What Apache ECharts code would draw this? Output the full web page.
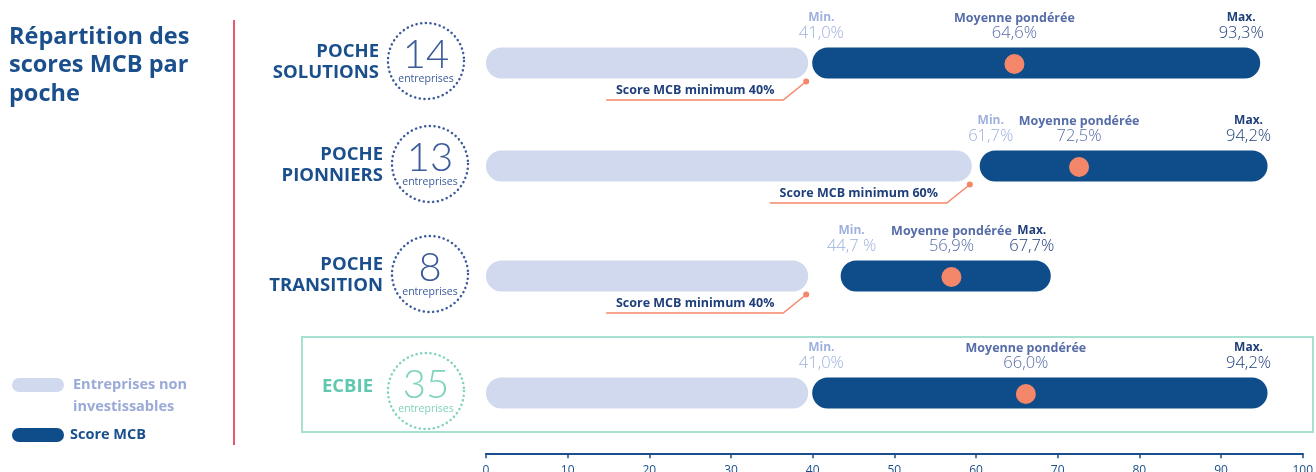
<!DOCTYPE html>
<html><head><meta charset="utf-8">
<script src="https://cdn.jsdelivr.net/npm/echarts@6/dist/echarts.min.js"></script>
<style>html,body{margin:0;padding:0;background:#fff}#c{width:1316px;height:472px}</style>
</head><body><div id="c"></div>
<script>
// ---- data ----
const rowNames = [['POCHE','SOLUTIONS'],['POCHE','PIONNIERS'],['POCHE','TRANSITION'],['ECBIE']];
const companies = [14, 13, 8, 35];
const thresholds = [40, 60, 40, 40];
const minScores = [41.0, 61.7, 44.7, 41.0];
const meanScores = [64.6, 72.5, 56.9, 66.0];
const maxScores = [93.3, 94.2, 67.7, 94.2];
const minLabels = ['41,0%', '61,7%', '44,7 %', '41,0%'];
const meanLabels = ['64,6%', '72,5%', '56,9%', '66,0%'];
const maxLabels = ['93,3%', '94,2%', '67,7%', '94,2%'];
const axisTicks = [0, 10, 20, 30, 40, 50, 60, 70, 80, 90, 100];

// ---- layout / style ----
const rowCenters = [63, 166, 276, 393];
const FONT = "'Open Sans', 'Noto Sans', sans-serif";
const C_DARK = '#0f4c8a', C_LIGHT = '#d1d9ee', C_DOT = '#f4876a', C_TITLE = '#1a4f8c', C_TEAL = '#5ec8b0';
const C_MIN = '#9eb0dc', C_MEAN = '#566ca8', C_MAX = '#1f3f7a';

const chart = echarts.init(document.getElementById('c'), null, {renderer: 'canvas'});

function renderItem(params, api) {
  const i = api.value(4);
  const th = api.value(0), mn = api.value(1), mean = api.value(2), mx = api.value(3);
  const p0 = api.coord([0, 0]);
  const cy = p0[1], x0 = p0[0];
  const h = 31, r = h / 2;
  const xTh = api.coord([th, 0])[0];
  const lightEnd = xTh - 5;
  const darkStart = Math.max(api.coord([mn, 0])[0] - 11, lightEnd + 4);
  const darkEnd = api.coord([mx, 0])[0] + 11;
  const xMean = api.coord([mean, 0])[0];
  const xMin = api.coord([mn, 0])[0];
  const xMax = api.coord([mx, 0])[0];
  const ch = [];
  ch.push({type: 'rect', shape: {x: x0, y: cy - r, width: lightEnd - x0, height: h, r: r}, style: {fill: C_LIGHT}});
  ch.push({type: 'rect', shape: {x: darkStart, y: cy - r, width: darkEnd - darkStart, height: h, r: r}, style: {fill: C_DARK}});
  ch.push({type: 'circle', shape: {cx: xMean, cy: cy + 1, r: 10}, style: {fill: C_DOT}});
  const txt = (t, x, y, size, weight, color) => ({type: 'text', style: {text: t, x: x, y: y, fontSize: size, fontWeight: weight, fontFamily: FONT, fill: color, align: 'center', verticalAlign: 'middle'}});
  ch.push(txt('Min.', xMin, cy - 45, 12, 'bold', C_MIN));
  ch.push(txt(minLabels[i], xMin, cy - 30, 16.5, 300, C_MIN));
  ch.push(txt('Moyenne pondérée', xMean, cy - 45, 12.5, 'bold', C_MEAN));
  ch.push(txt(meanLabels[i], xMean, cy - 30, 16.5, 300, C_MEAN));
  ch.push(txt('Max.', xMax - 8, cy - 45, 12, 'bold', C_MAX));
  ch.push(txt(maxLabels[i], xMax - 8, cy - 30, 16.5, 300, C_MAX));
  if (i < 3) {
    const dx = lightEnd - 2, dy = cy + r + 3;
    ch.push({type: 'polyline', shape: {points: [[dx, dy], [dx - 23, cy + 37], [dx - 200, cy + 37]]}, style: {stroke: C_DOT, lineWidth: 1.5, fill: null}});
    ch.push({type: 'circle', shape: {cx: dx, cy: dy, r: 3}, style: {fill: C_DOT}});
    ch.push(txt('Score MCB minimum ' + th + '%', dx - 111, cy + 27, 12.5, 'bold', C_MAX));
  }
  return {type: 'group', children: ch};
}

const grids = [], xAxes = [], yAxes = [], series = [];
rowCenters.forEach((cy, i) => {
  grids.push({left: 486, right: 12, top: cy - 16, height: 32});
  xAxes.push({type: 'value', gridIndex: i, min: 0, max: 100, show: false});
  yAxes.push({type: 'category', gridIndex: i, data: [rowNames[i].join(' ')], show: false});
  series.push({type: 'custom', xAxisIndex: i, yAxisIndex: i, clip: false, silent: true, renderItem: renderItem,
    data: [[thresholds[i], minScores[i], meanScores[i], maxScores[i], i]]});
});
grids.push({left: 486, right: 12, top: 453, height: 1});
xAxes.push({type: 'value', gridIndex: 4, min: 0, max: 100, interval: 10, position: 'bottom',
  axisLine: {show: true, lineStyle: {color: C_TITLE, width: 2}},
  axisTick: {show: true, length: 5, lineStyle: {color: C_TITLE, width: 1.5}},
  splitLine: {show: false},
  axisLabel: {show: true, margin: 11, fontSize: 12, color: C_TITLE, fontFamily: FONT,
    formatter: v => axisTicks.indexOf(v) >= 0 ? String(v) : ''}});
yAxes.push({type: 'value', gridIndex: 4, show: false});

// ---- graphic: left panel, row labels, circles ----
const graphic = [];
['Répartition des', 'scores MCB par', 'poche'].forEach((t, k) => {
  graphic.push({type: 'text', left: 9, top: 25 + k * 28.5, style: {text: t, fontSize: 23.5, fontWeight: 'bold', fontFamily: FONT, fill: C_TITLE}});
});
graphic.push({type: 'line', shape: {x1: 234, y1: 20, x2: 234, y2: 445}, style: {stroke: '#e8576f', lineWidth: 2}});
graphic.push({type: 'rect', shape: {x: 12, y: 378, width: 52, height: 14, r: 7}, style: {fill: C_LIGHT}});
graphic.push({type: 'text', x: 73, y: 385, style: {text: 'Entreprises non', fontSize: 14.5, fontWeight: 'bold', fontFamily: FONT, fill: '#9aaad8', verticalAlign: 'middle'}});
graphic.push({type: 'text', x: 73, y: 407, style: {text: 'investissables', fontSize: 14.5, fontWeight: 'bold', fontFamily: FONT, fill: '#9aaad8', verticalAlign: 'middle'}});
graphic.push({type: 'rect', shape: {x: 12, y: 428, width: 52, height: 14, r: 7}, style: {fill: C_DARK}});
graphic.push({type: 'text', x: 70, y: 435, style: {text: 'Score MCB', fontSize: 14.5, fontWeight: 'bold', fontFamily: FONT, fill: C_TITLE, verticalAlign: 'middle'}});
// ECBIE box
graphic.push({type: 'rect', shape: {x: 302, y: 337, width: 1011, height: 95}, style: {fill: null, stroke: '#a6e0d0', lineWidth: 2}});

rowCenters.forEach((cy, i) => {
  const teal = i === 3;
  const colLab = teal ? C_TEAL : C_TITLE;
  const colCirc = teal ? '#7dd3bd' : '#3b5b9b';
  const ccx = (i === 1 || i === 2) ? 430 : 426;
  const ccy = cy - 2;
  const names = rowNames[i];
  if (names.length === 2) {
    graphic.push({type: 'text', x: ccx - 47, y: cy - 11, style: {text: names[0], fontSize: 18.5, fontWeight: 'bold', fontFamily: FONT, fill: colLab, align: 'right', verticalAlign: 'middle'}});
    graphic.push({type: 'text', x: ccx - 47, y: cy + 10, style: {text: names[1], fontSize: 18.5, fontWeight: 'bold', fontFamily: FONT, fill: colLab, align: 'right', verticalAlign: 'middle'}});
  } else {
    graphic.push({type: 'text', x: ccx - 53, y: cy - 6, style: {text: names[0], fontSize: 18.5, fontWeight: 'bold', fontFamily: FONT, fill: colLab, align: 'right', verticalAlign: 'middle'}});
  }
  graphic.push({type: 'circle', shape: {cx: ccx, cy: ccy, r: 38}, style: {fill: null, stroke: colCirc, lineWidth: 2.5, lineDash: [0.1, 4.6], lineCap: 'round'}});
  graphic.push({type: 'text', x: ccx, y: ccy - 6, style: {text: String(companies[i]), fontSize: 40, fontWeight: 300, fontFamily: "Lato, 'Open Sans', sans-serif", fill: colCirc, align: 'center', verticalAlign: 'middle'}});
  graphic.push({type: 'text', x: ccx, y: ccy + 18, style: {text: 'entreprises', fontSize: 10.5, fontFamily: FONT, fill: colCirc, align: 'center', verticalAlign: 'middle'}});
});

chart.setOption({
  animation: false,
  grid: grids, xAxis: xAxes, yAxis: yAxes, series: series, graphic: graphic
});
</script></body></html>
